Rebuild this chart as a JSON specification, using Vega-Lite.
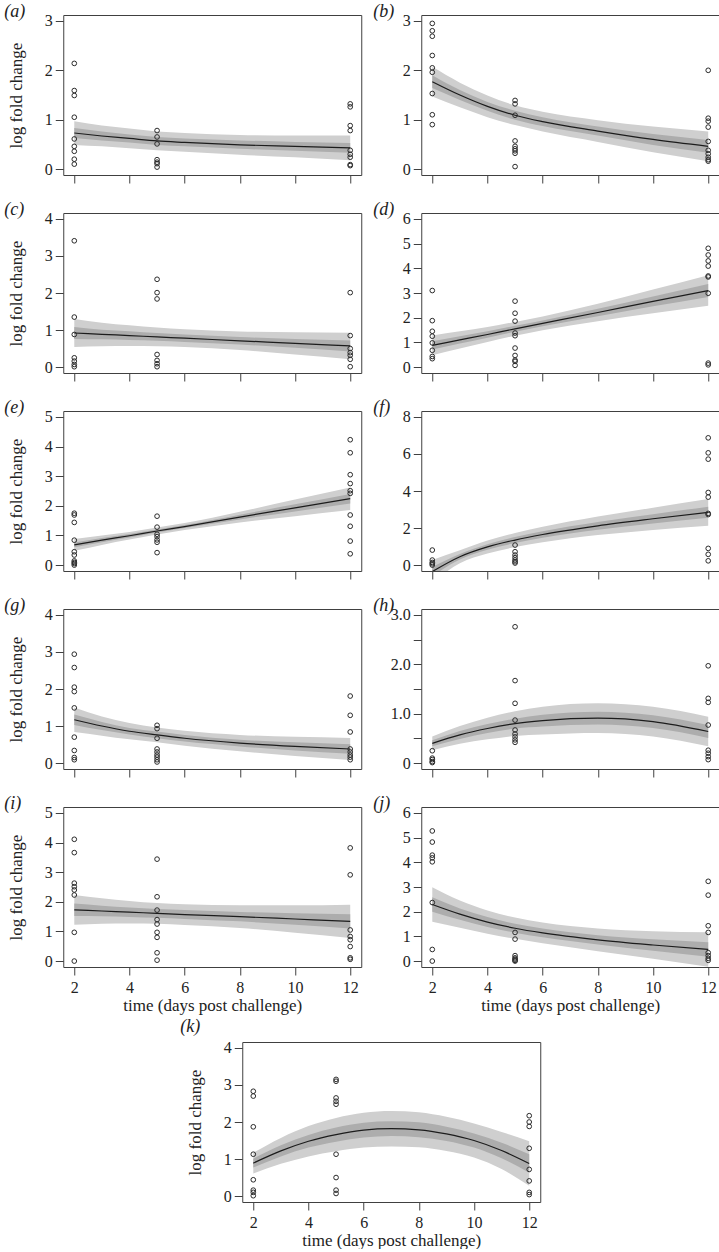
{
"$schema":"https://vega.github.io/schema/vega-lite/v6.json",
"background":"white",
"padding":{"left":3,"top":2,"right":0,"bottom":0},
"datasets":{
"crv":[
{"p":"a","x":2,"fit":0.73,"lo1":0.49,"hi1":0.97,"lo2":0.63,"hi2":0.83},
{"p":"a","x":3,"fit":0.67,"lo1":0.46,"hi1":0.88,"lo2":0.58,"hi2":0.76},
{"p":"a","x":4,"fit":0.62,"lo1":0.42,"hi1":0.82,"lo2":0.54,"hi2":0.70},
{"p":"a","x":5,"fit":0.57,"lo1":0.38,"hi1":0.76,"lo2":0.49,"hi2":0.65},
{"p":"a","x":6,"fit":0.54,"lo1":0.35,"hi1":0.73,"lo2":0.46,"hi2":0.62},
{"p":"a","x":8,"fit":0.49,"lo1":0.29,"hi1":0.69,"lo2":0.41,"hi2":0.58},
{"p":"a","x":10,"fit":0.46,"lo1":0.24,"hi1":0.68,"lo2":0.37,"hi2":0.55},
{"p":"a","x":12,"fit":0.43,"lo1":0.18,"hi1":0.68,"lo2":0.33,"hi2":0.53},
{"p":"b","x":2,"fit":1.77,"lo1":1.47,"hi1":2.07,"lo2":1.64,"hi2":1.90},
{"p":"b","x":3,"fit":1.50,"lo1":1.25,"hi1":1.75,"lo2":1.40,"hi2":1.60},
{"p":"b","x":4,"fit":1.27,"lo1":1.05,"hi1":1.49,"lo2":1.18,"hi2":1.36},
{"p":"b","x":5,"fit":1.09,"lo1":0.89,"hi1":1.29,"lo2":1.00,"hi2":1.18},
{"p":"b","x":6,"fit":0.96,"lo1":0.76,"hi1":1.16,"lo2":0.87,"hi2":1.05},
{"p":"b","x":8,"fit":0.77,"lo1":0.55,"hi1":0.99,"lo2":0.68,"hi2":0.86},
{"p":"b","x":10,"fit":0.60,"lo1":0.34,"hi1":0.86,"lo2":0.49,"hi2":0.71},
{"p":"b","x":12,"fit":0.46,"lo1":0.16,"hi1":0.76,"lo2":0.33,"hi2":0.59},
{"p":"c","x":2,"fit":0.92,"lo1":0.54,"hi1":1.30,"lo2":0.76,"hi2":1.08},
{"p":"c","x":3,"fit":0.885,"lo1":0.56,"hi1":1.20,"lo2":0.75,"hi2":1.01},
{"p":"c","x":4,"fit":0.85,"lo1":0.57,"hi1":1.13,"lo2":0.73,"hi2":0.97},
{"p":"c","x":5,"fit":0.815,"lo1":0.56,"hi1":1.07,"lo2":0.71,"hi2":0.92},
{"p":"c","x":6,"fit":0.78,"lo1":0.54,"hi1":1.02,"lo2":0.68,"hi2":0.88},
{"p":"c","x":8,"fit":0.71,"lo1":0.46,"hi1":0.96,"lo2":0.61,"hi2":0.81},
{"p":"c","x":10,"fit":0.64,"lo1":0.34,"hi1":0.94,"lo2":0.52,"hi2":0.76},
{"p":"c","x":12,"fit":0.57,"lo1":0.21,"hi1":0.93,"lo2":0.42,"hi2":0.72},
{"p":"d","x":2,"fit":0.88,"lo1":0.48,"hi1":1.28,"lo2":0.71,"hi2":1.05},
{"p":"d","x":3,"fit":1.10,"lo1":0.75,"hi1":1.45,"lo2":0.95,"hi2":1.25},
{"p":"d","x":4,"fit":1.32,"lo1":1.02,"hi1":1.62,"lo2":1.19,"hi2":1.45},
{"p":"d","x":5,"fit":1.55,"lo1":1.27,"hi1":1.83,"lo2":1.43,"hi2":1.67},
{"p":"d","x":6,"fit":1.77,"lo1":1.49,"hi1":2.05,"lo2":1.65,"hi2":1.89},
{"p":"d","x":8,"fit":2.21,"lo1":1.86,"hi1":2.56,"lo2":2.06,"hi2":2.36},
{"p":"d","x":10,"fit":2.66,"lo1":2.18,"hi1":3.14,"lo2":2.46,"hi2":2.86},
{"p":"d","x":12,"fit":3.10,"lo1":2.48,"hi1":3.72,"lo2":2.84,"hi2":3.36},
{"p":"e","x":2,"fit":0.68,"lo1":0.48,"hi1":0.88,"lo2":0.60,"hi2":0.76},
{"p":"e","x":3,"fit":0.84,"lo1":0.68,"hi1":1.00,"lo2":0.77,"hi2":0.91},
{"p":"e","x":4,"fit":0.99,"lo1":0.86,"hi1":1.12,"lo2":0.93,"hi2":1.05},
{"p":"e","x":5,"fit":1.15,"lo1":1.03,"hi1":1.27,"lo2":1.10,"hi2":1.20},
{"p":"e","x":6,"fit":1.30,"lo1":1.18,"hi1":1.42,"lo2":1.25,"hi2":1.35},
{"p":"e","x":8,"fit":1.62,"lo1":1.44,"hi1":1.80,"lo2":1.54,"hi2":1.70},
{"p":"e","x":10,"fit":1.93,"lo1":1.65,"hi1":2.21,"lo2":1.81,"hi2":2.05},
{"p":"e","x":12,"fit":2.24,"lo1":1.86,"hi1":2.62,"lo2":2.08,"hi2":2.40},
{"p":"f","x":2,"fit":-0.35,"lo1":-0.95,"hi1":0.28,"lo2":-0.60,"hi2":-0.10},
{"p":"f","x":3,"fit":0.45,"lo1":0.10,"hi1":0.80,"lo2":0.30,"hi2":0.60},
{"p":"f","x":4,"fit":0.98,"lo1":0.63,"hi1":1.33,"lo2":0.83,"hi2":1.13},
{"p":"f","x":5,"fit":1.35,"lo1":0.97,"hi1":1.73,"lo2":1.19,"hi2":1.51},
{"p":"f","x":6,"fit":1.65,"lo1":1.23,"hi1":2.07,"lo2":1.47,"hi2":1.83},
{"p":"f","x":8,"fit":2.12,"lo1":1.62,"hi1":2.62,"lo2":1.91,"hi2":2.33},
{"p":"f","x":10,"fit":2.50,"lo1":1.90,"hi1":3.10,"lo2":2.25,"hi2":2.75},
{"p":"f","x":12,"fit":2.85,"lo1":2.13,"hi1":3.57,"lo2":2.55,"hi2":3.15},
{"p":"g","x":2,"fit":1.17,"lo1":0.84,"hi1":1.50,"lo2":1.03,"hi2":1.31},
{"p":"g","x":3,"fit":1.00,"lo1":0.74,"hi1":1.26,"lo2":0.89,"hi2":1.11},
{"p":"g","x":4,"fit":0.86,"lo1":0.64,"hi1":1.08,"lo2":0.77,"hi2":0.95},
{"p":"g","x":5,"fit":0.76,"lo1":0.56,"hi1":0.96,"lo2":0.67,"hi2":0.85},
{"p":"g","x":6,"fit":0.67,"lo1":0.47,"hi1":0.87,"lo2":0.58,"hi2":0.76},
{"p":"g","x":8,"fit":0.54,"lo1":0.32,"hi1":0.76,"lo2":0.45,"hi2":0.63},
{"p":"g","x":10,"fit":0.45,"lo1":0.19,"hi1":0.71,"lo2":0.34,"hi2":0.56},
{"p":"g","x":12,"fit":0.38,"lo1":0.08,"hi1":0.68,"lo2":0.25,"hi2":0.51},
{"p":"h","x":2,"fit":0.40,"lo1":0.26,"hi1":0.54,"lo2":0.34,"hi2":0.46},
{"p":"h","x":3,"fit":0.57,"lo1":0.39,"hi1":0.75,"lo2":0.49,"hi2":0.65},
{"p":"h","x":4,"fit":0.70,"lo1":0.48,"hi1":0.92,"lo2":0.61,"hi2":0.79},
{"p":"h","x":5,"fit":0.80,"lo1":0.55,"hi1":1.05,"lo2":0.70,"hi2":0.90},
{"p":"h","x":6,"fit":0.86,"lo1":0.58,"hi1":1.14,"lo2":0.74,"hi2":0.98},
{"p":"h","x":8,"fit":0.91,"lo1":0.61,"hi1":1.21,"lo2":0.78,"hi2":1.04},
{"p":"h","x":10,"fit":0.84,"lo1":0.54,"hi1":1.14,"lo2":0.71,"hi2":0.97},
{"p":"h","x":12,"fit":0.64,"lo1":0.34,"hi1":0.94,"lo2":0.51,"hi2":0.77},
{"p":"i","x":2,"fit":1.73,"lo1":1.23,"hi1":2.23,"lo2":1.52,"hi2":1.94},
{"p":"i","x":3,"fit":1.69,"lo1":1.26,"hi1":2.12,"lo2":1.51,"hi2":1.87},
{"p":"i","x":4,"fit":1.65,"lo1":1.27,"hi1":2.03,"lo2":1.49,"hi2":1.81},
{"p":"i","x":5,"fit":1.61,"lo1":1.26,"hi1":1.96,"lo2":1.46,"hi2":1.76},
{"p":"i","x":6,"fit":1.57,"lo1":1.22,"hi1":1.92,"lo2":1.42,"hi2":1.72},
{"p":"i","x":8,"fit":1.50,"lo1":1.12,"hi1":1.88,"lo2":1.34,"hi2":1.66},
{"p":"i","x":10,"fit":1.42,"lo1":0.96,"hi1":1.88,"lo2":1.23,"hi2":1.61},
{"p":"i","x":12,"fit":1.34,"lo1":0.78,"hi1":1.90,"lo2":1.10,"hi2":1.58},
{"p":"j","x":2,"fit":2.29,"lo1":1.59,"hi1":2.99,"lo2":2.00,"hi2":2.58},
{"p":"j","x":3,"fit":1.90,"lo1":1.35,"hi1":2.45,"lo2":1.67,"hi2":2.13},
{"p":"j","x":4,"fit":1.58,"lo1":1.11,"hi1":2.05,"lo2":1.38,"hi2":1.78},
{"p":"j","x":5,"fit":1.33,"lo1":0.90,"hi1":1.76,"lo2":1.15,"hi2":1.51},
{"p":"j","x":6,"fit":1.14,"lo1":0.72,"hi1":1.56,"lo2":0.96,"hi2":1.32},
{"p":"j","x":8,"fit":0.86,"lo1":0.40,"hi1":1.32,"lo2":0.67,"hi2":1.05},
{"p":"j","x":10,"fit":0.65,"lo1":0.09,"hi1":1.21,"lo2":0.42,"hi2":0.88},
{"p":"j","x":12,"fit":0.47,"lo1":-0.23,"hi1":1.17,"lo2":0.18,"hi2":0.76},
{"p":"k","x":2,"fit":0.89,"lo1":0.61,"hi1":1.17,"lo2":0.77,"hi2":1.01},
{"p":"k","x":3,"fit":1.22,"lo1":0.87,"hi1":1.57,"lo2":1.07,"hi2":1.37},
{"p":"k","x":4,"fit":1.48,"lo1":1.07,"hi1":1.89,"lo2":1.31,"hi2":1.65},
{"p":"k","x":5,"fit":1.66,"lo1":1.21,"hi1":2.11,"lo2":1.47,"hi2":1.85},
{"p":"k","x":6,"fit":1.78,"lo1":1.31,"hi1":2.25,"lo2":1.58,"hi2":1.98},
{"p":"k","x":7,"fit":1.82,"lo1":1.34,"hi1":2.30,"lo2":1.62,"hi2":2.02},
{"p":"k","x":8,"fit":1.79,"lo1":1.32,"hi1":2.26,"lo2":1.59,"hi2":1.99},
{"p":"k","x":9,"fit":1.68,"lo1":1.22,"hi1":2.14,"lo2":1.49,"hi2":1.87},
{"p":"k","x":10,"fit":1.50,"lo1":1.04,"hi1":1.96,"lo2":1.31,"hi2":1.69},
{"p":"k","x":11,"fit":1.23,"lo1":0.73,"hi1":1.73,"lo2":1.02,"hi2":1.44},
{"p":"k","x":12,"fit":0.88,"lo1":0.28,"hi1":1.48,"lo2":0.63,"hi2":1.13}
],
"pts":[
{"p":"a","x":2,"y":2.14},{"p":"a","x":2,"y":1.59},{"p":"a","x":2,"y":1.49},{"p":"a","x":2,"y":1.05},{"p":"a","x":2,"y":0.61},{"p":"a","x":2,"y":0.46},{"p":"a","x":2,"y":0.36},{"p":"a","x":2,"y":0.20},{"p":"a","x":2,"y":0.10},
{"p":"a","x":5,"y":0.78},{"p":"a","x":5,"y":0.65},{"p":"a","x":5,"y":0.51},{"p":"a","x":5,"y":0.19},{"p":"a","x":5,"y":0.14},{"p":"a","x":5,"y":0.11},{"p":"a","x":5,"y":0.04},
{"p":"a","x":12,"y":1.32},{"p":"a","x":12,"y":1.26},{"p":"a","x":12,"y":0.88},{"p":"a","x":12,"y":0.78},{"p":"a","x":12,"y":0.38},{"p":"a","x":12,"y":0.30},{"p":"a","x":12,"y":0.24},{"p":"a","x":12,"y":0.09},{"p":"a","x":12,"y":0.07},
{"p":"b","x":2,"y":2.95},{"p":"b","x":2,"y":2.80},{"p":"b","x":2,"y":2.69},{"p":"b","x":2,"y":2.30},{"p":"b","x":2,"y":2.05},{"p":"b","x":2,"y":1.96},{"p":"b","x":2,"y":1.53},{"p":"b","x":2,"y":1.10},{"p":"b","x":2,"y":0.90},
{"p":"b","x":5,"y":1.39},{"p":"b","x":5,"y":1.32},{"p":"b","x":5,"y":1.09},{"p":"b","x":5,"y":0.57},{"p":"b","x":5,"y":0.46},{"p":"b","x":5,"y":0.41},{"p":"b","x":5,"y":0.37},{"p":"b","x":5,"y":0.32},{"p":"b","x":5,"y":0.05},
{"p":"b","x":12,"y":2.0},{"p":"b","x":12,"y":1.03},{"p":"b","x":12,"y":0.97},{"p":"b","x":12,"y":0.85},{"p":"b","x":12,"y":0.56},{"p":"b","x":12,"y":0.38},{"p":"b","x":12,"y":0.31},{"p":"b","x":12,"y":0.24},{"p":"b","x":12,"y":0.19},{"p":"b","x":12,"y":0.16},
{"p":"c","x":2,"y":3.41},{"p":"c","x":2,"y":1.35},{"p":"c","x":2,"y":0.88},{"p":"c","x":2,"y":0.25},{"p":"c","x":2,"y":0.16},{"p":"c","x":2,"y":0.07},{"p":"c","x":2,"y":0.01},
{"p":"c","x":5,"y":2.37},{"p":"c","x":5,"y":2.01},{"p":"c","x":5,"y":1.84},{"p":"c","x":5,"y":0.34},{"p":"c","x":5,"y":0.18},{"p":"c","x":5,"y":0.09},{"p":"c","x":5,"y":0.01},
{"p":"c","x":12,"y":2.01},{"p":"c","x":12,"y":0.85},{"p":"c","x":12,"y":0.50},{"p":"c","x":12,"y":0.39},{"p":"c","x":12,"y":0.32},{"p":"c","x":12,"y":0.21},{"p":"c","x":12,"y":0.01},
{"p":"d","x":2,"y":3.10},{"p":"d","x":2,"y":1.88},{"p":"d","x":2,"y":1.45},{"p":"d","x":2,"y":1.25},{"p":"d","x":2,"y":0.98},{"p":"d","x":2,"y":0.68},{"p":"d","x":2,"y":0.43},{"p":"d","x":2,"y":0.34},
{"p":"d","x":5,"y":2.67},{"p":"d","x":5,"y":2.18},{"p":"d","x":5,"y":1.86},{"p":"d","x":5,"y":1.38},{"p":"d","x":5,"y":1.27},{"p":"d","x":5,"y":0.77},{"p":"d","x":5,"y":0.47},{"p":"d","x":5,"y":0.28},{"p":"d","x":5,"y":0.23},{"p":"d","x":5,"y":0.07},
{"p":"d","x":12,"y":4.81},{"p":"d","x":12,"y":4.54},{"p":"d","x":12,"y":4.30},{"p":"d","x":12,"y":4.09},{"p":"d","x":12,"y":3.69},{"p":"d","x":12,"y":3.65},{"p":"d","x":12,"y":2.99},{"p":"d","x":12,"y":0.16},{"p":"d","x":12,"y":0.09},
{"p":"e","x":2,"y":1.75},{"p":"e","x":2,"y":1.69},{"p":"e","x":2,"y":1.44},{"p":"e","x":2,"y":0.84},{"p":"e","x":2,"y":0.45},{"p":"e","x":2,"y":0.34},{"p":"e","x":2,"y":0.14},{"p":"e","x":2,"y":0.09},{"p":"e","x":2,"y":0.05},{"p":"e","x":2,"y":0.0},
{"p":"e","x":5,"y":1.65},{"p":"e","x":5,"y":1.28},{"p":"e","x":5,"y":1.04},{"p":"e","x":5,"y":0.96},{"p":"e","x":5,"y":0.85},{"p":"e","x":5,"y":0.77},{"p":"e","x":5,"y":0.42},
{"p":"e","x":12,"y":4.23},{"p":"e","x":12,"y":3.79},{"p":"e","x":12,"y":3.05},{"p":"e","x":12,"y":2.75},{"p":"e","x":12,"y":2.51},{"p":"e","x":12,"y":2.42},{"p":"e","x":12,"y":1.69},{"p":"e","x":12,"y":1.31},{"p":"e","x":12,"y":0.81},{"p":"e","x":12,"y":0.38},
{"p":"f","x":2,"y":0.81},{"p":"f","x":2,"y":0.27},{"p":"f","x":2,"y":0.14},{"p":"f","x":2,"y":0.07},{"p":"f","x":2,"y":0.0},
{"p":"f","x":5,"y":1.08},{"p":"f","x":5,"y":0.72},{"p":"f","x":5,"y":0.54},{"p":"f","x":5,"y":0.40},{"p":"f","x":5,"y":0.27},{"p":"f","x":5,"y":0.18},{"p":"f","x":5,"y":0.11},
{"p":"f","x":12,"y":6.87},{"p":"f","x":12,"y":6.06},{"p":"f","x":12,"y":5.72},{"p":"f","x":12,"y":3.92},{"p":"f","x":12,"y":3.67},{"p":"f","x":12,"y":2.79},{"p":"f","x":12,"y":2.73},{"p":"f","x":12,"y":0.90},{"p":"f","x":12,"y":0.58},{"p":"f","x":12,"y":0.23},
{"p":"g","x":2,"y":2.94},{"p":"g","x":2,"y":2.58},{"p":"g","x":2,"y":2.05},{"p":"g","x":2,"y":1.93},{"p":"g","x":2,"y":1.49},{"p":"g","x":2,"y":0.70},{"p":"g","x":2,"y":0.34},{"p":"g","x":2,"y":0.15},{"p":"g","x":2,"y":0.09},
{"p":"g","x":5,"y":1.02},{"p":"g","x":5,"y":0.93},{"p":"g","x":5,"y":0.67},{"p":"g","x":5,"y":0.38},{"p":"g","x":5,"y":0.30},{"p":"g","x":5,"y":0.22},{"p":"g","x":5,"y":0.16},{"p":"g","x":5,"y":0.09},{"p":"g","x":5,"y":0.03},
{"p":"g","x":12,"y":1.81},{"p":"g","x":12,"y":1.29},{"p":"g","x":12,"y":0.84},{"p":"g","x":12,"y":0.38},{"p":"g","x":12,"y":0.30},{"p":"g","x":12,"y":0.22},{"p":"g","x":12,"y":0.16},{"p":"g","x":12,"y":0.09},
{"p":"h","x":2,"y":0.25},{"p":"h","x":2,"y":0.10},{"p":"h","x":2,"y":0.07},{"p":"h","x":2,"y":0.03},{"p":"h","x":2,"y":0.01},
{"p":"h","x":5,"y":2.76},{"p":"h","x":5,"y":1.67},{"p":"h","x":5,"y":1.21},{"p":"h","x":5,"y":0.87},{"p":"h","x":5,"y":0.67},{"p":"h","x":5,"y":0.59},{"p":"h","x":5,"y":0.53},{"p":"h","x":5,"y":0.47},{"p":"h","x":5,"y":0.42},
{"p":"h","x":12,"y":1.97},{"p":"h","x":12,"y":1.31},{"p":"h","x":12,"y":1.23},{"p":"h","x":12,"y":0.77},{"p":"h","x":12,"y":0.26},{"p":"h","x":12,"y":0.20},{"p":"h","x":12,"y":0.13},{"p":"h","x":12,"y":0.07},
{"p":"i","x":2,"y":4.11},{"p":"i","x":2,"y":3.66},{"p":"i","x":2,"y":2.63},{"p":"i","x":2,"y":2.51},{"p":"i","x":2,"y":2.40},{"p":"i","x":2,"y":2.23},{"p":"i","x":2,"y":0.97},{"p":"i","x":2,"y":0.0},
{"p":"i","x":5,"y":3.44},{"p":"i","x":5,"y":2.17},{"p":"i","x":5,"y":1.72},{"p":"i","x":5,"y":1.40},{"p":"i","x":5,"y":1.25},{"p":"i","x":5,"y":0.97},{"p":"i","x":5,"y":0.80},{"p":"i","x":5,"y":0.28},{"p":"i","x":5,"y":0.03},
{"p":"i","x":12,"y":3.82},{"p":"i","x":12,"y":2.91},{"p":"i","x":12,"y":1.05},{"p":"i","x":12,"y":0.83},{"p":"i","x":12,"y":0.72},{"p":"i","x":12,"y":0.49},{"p":"i","x":12,"y":0.11},{"p":"i","x":12,"y":0.06},
{"p":"j","x":2,"y":5.27},{"p":"j","x":2,"y":4.82},{"p":"j","x":2,"y":4.29},{"p":"j","x":2,"y":4.18},{"p":"j","x":2,"y":4.02},{"p":"j","x":2,"y":2.37},{"p":"j","x":2,"y":0.47},{"p":"j","x":2,"y":0.0},
{"p":"j","x":5,"y":1.16},{"p":"j","x":5,"y":0.89},{"p":"j","x":5,"y":0.22},{"p":"j","x":5,"y":0.13},{"p":"j","x":5,"y":0.08},{"p":"j","x":5,"y":0.03},{"p":"j","x":5,"y":0.0},
{"p":"j","x":12,"y":3.23},{"p":"j","x":12,"y":2.67},{"p":"j","x":12,"y":1.43},{"p":"j","x":12,"y":1.16},{"p":"j","x":12,"y":0.34},{"p":"j","x":12,"y":0.22},{"p":"j","x":12,"y":0.11},{"p":"j","x":12,"y":0.03},
{"p":"k","x":2,"y":2.83},{"p":"k","x":2,"y":2.70},{"p":"k","x":2,"y":1.87},{"p":"k","x":2,"y":1.13},{"p":"k","x":2,"y":0.44},{"p":"k","x":2,"y":0.16},{"p":"k","x":2,"y":0.10},{"p":"k","x":2,"y":0.01},
{"p":"k","x":5,"y":3.15},{"p":"k","x":5,"y":3.10},{"p":"k","x":5,"y":2.65},{"p":"k","x":5,"y":2.56},{"p":"k","x":5,"y":2.48},{"p":"k","x":5,"y":1.13},{"p":"k","x":5,"y":0.50},{"p":"k","x":5,"y":0.16},{"p":"k","x":5,"y":0.07},
{"p":"k","x":12,"y":2.17},{"p":"k","x":12,"y":2.0},{"p":"k","x":12,"y":1.88},{"p":"k","x":12,"y":1.29},{"p":"k","x":12,"y":0.72},{"p":"k","x":12,"y":0.41},{"p":"k","x":12,"y":0.10},{"p":"k","x":12,"y":0.04}
]
},
"spacing":3,
"center":true,
"vconcat":[
{"columns":2,"bounds":"flush","spacing":{"row":38,"column":60},
"concat":[
{"width":298,"height":160,"title":{"text":"(a)","dx":-59,"dy":12},
"encoding":{"x":{"field":"x","type":"quantitative","scale":{"domain":[1.6,12.4],"nice":false,"zero":false},"axis":{"values":[2,4,6,8,10,12],"tickCount":100,"format":"d","labels":false,"title":null}}},
"layer":[
{"data":{"name":"crv"},"transform":[{"filter":"datum.p==='a'"}],"mark":{"type":"area","color":"#cfcfcf","opacity":1,"interpolate":"monotone","clip":true},"encoding":{"y":{"field":"lo1","type":"quantitative","scale":{"domain":[-0.12,3.12],"nice":false,"zero":false},"axis":{"values":[0,0.5,1,1.5,2,2.5,3],"tickCount":100,"format":"d","labelExpr":"datum.value%1===0?datum.label:''","title":"log fold change"}},"y2":{"field":"hi1"}}},
{"data":{"name":"crv"},"transform":[{"filter":"datum.p==='a'"}],"mark":{"type":"area","color":"#adadad","opacity":1,"interpolate":"monotone","clip":true},"encoding":{"y":{"field":"lo2","type":"quantitative"},"y2":{"field":"hi2"}}},
{"data":{"name":"crv"},"transform":[{"filter":"datum.p==='a'"}],"mark":{"type":"line","color":"#1c1c1c","strokeWidth":1.2,"interpolate":"monotone","clip":true},"encoding":{"y":{"field":"fit","type":"quantitative"}}},
{"data":{"name":"pts"},"transform":[{"filter":"datum.p==='a'"}],"mark":{"type":"point","shape":"circle","filled":false,"size":22,"color":"#2b2b2b","strokeWidth":1,"opacity":1},"encoding":{"y":{"field":"y","type":"quantitative"}}}
]},
{"width":298,"height":160,"title":{"text":"(b)","dx":-48,"dy":12},
"encoding":{"x":{"field":"x","type":"quantitative","scale":{"domain":[1.6,12.4],"nice":false,"zero":false},"axis":{"values":[2,4,6,8,10,12],"tickCount":100,"format":"d","labels":false,"title":null}}},
"layer":[
{"data":{"name":"crv"},"transform":[{"filter":"datum.p==='b'"}],"mark":{"type":"area","color":"#cfcfcf","opacity":1,"interpolate":"monotone","clip":true},"encoding":{"y":{"field":"lo1","type":"quantitative","scale":{"domain":[-0.12,3.12],"nice":false,"zero":false},"axis":{"values":[0,0.5,1,1.5,2,2.5,3],"tickCount":100,"format":"d","labelExpr":"datum.value%1===0?datum.label:''","title":null}},"y2":{"field":"hi1"}}},
{"data":{"name":"crv"},"transform":[{"filter":"datum.p==='b'"}],"mark":{"type":"area","color":"#adadad","opacity":1,"interpolate":"monotone","clip":true},"encoding":{"y":{"field":"lo2","type":"quantitative"},"y2":{"field":"hi2"}}},
{"data":{"name":"crv"},"transform":[{"filter":"datum.p==='b'"}],"mark":{"type":"line","color":"#1c1c1c","strokeWidth":1.2,"interpolate":"monotone","clip":true},"encoding":{"y":{"field":"fit","type":"quantitative"}}},
{"data":{"name":"pts"},"transform":[{"filter":"datum.p==='b'"}],"mark":{"type":"point","shape":"circle","filled":false,"size":22,"color":"#2b2b2b","strokeWidth":1,"opacity":1},"encoding":{"y":{"field":"y","type":"quantitative"}}}
]},
{"width":298,"height":160,"title":{"text":"(c)","dx":-59,"dy":12},
"encoding":{"x":{"field":"x","type":"quantitative","scale":{"domain":[1.6,12.4],"nice":false,"zero":false},"axis":{"values":[2,4,6,8,10,12],"tickCount":100,"format":"d","labels":false,"title":null}}},
"layer":[
{"data":{"name":"crv"},"transform":[{"filter":"datum.p==='c'"}],"mark":{"type":"area","color":"#cfcfcf","opacity":1,"interpolate":"monotone","clip":true},"encoding":{"y":{"field":"lo1","type":"quantitative","scale":{"domain":[-0.16,4.16],"nice":false,"zero":false},"axis":{"values":[0,1,2,3,4],"tickCount":100,"format":"d","title":"log fold change"}},"y2":{"field":"hi1"}}},
{"data":{"name":"crv"},"transform":[{"filter":"datum.p==='c'"}],"mark":{"type":"area","color":"#adadad","opacity":1,"interpolate":"monotone","clip":true},"encoding":{"y":{"field":"lo2","type":"quantitative"},"y2":{"field":"hi2"}}},
{"data":{"name":"crv"},"transform":[{"filter":"datum.p==='c'"}],"mark":{"type":"line","color":"#1c1c1c","strokeWidth":1.2,"interpolate":"monotone","clip":true},"encoding":{"y":{"field":"fit","type":"quantitative"}}},
{"data":{"name":"pts"},"transform":[{"filter":"datum.p==='c'"}],"mark":{"type":"point","shape":"circle","filled":false,"size":22,"color":"#2b2b2b","strokeWidth":1,"opacity":1},"encoding":{"y":{"field":"y","type":"quantitative"}}}
]},
{"width":298,"height":160,"title":{"text":"(d)","dx":-48,"dy":12},
"encoding":{"x":{"field":"x","type":"quantitative","scale":{"domain":[1.6,12.4],"nice":false,"zero":false},"axis":{"values":[2,4,6,8,10,12],"tickCount":100,"format":"d","labels":false,"title":null}}},
"layer":[
{"data":{"name":"crv"},"transform":[{"filter":"datum.p==='d'"}],"mark":{"type":"area","color":"#cfcfcf","opacity":1,"interpolate":"monotone","clip":true},"encoding":{"y":{"field":"lo1","type":"quantitative","scale":{"domain":[-0.24,6.24],"nice":false,"zero":false},"axis":{"values":[0,1,2,3,4,5,6],"tickCount":100,"format":"d","title":null}},"y2":{"field":"hi1"}}},
{"data":{"name":"crv"},"transform":[{"filter":"datum.p==='d'"}],"mark":{"type":"area","color":"#adadad","opacity":1,"interpolate":"monotone","clip":true},"encoding":{"y":{"field":"lo2","type":"quantitative"},"y2":{"field":"hi2"}}},
{"data":{"name":"crv"},"transform":[{"filter":"datum.p==='d'"}],"mark":{"type":"line","color":"#1c1c1c","strokeWidth":1.2,"interpolate":"monotone","clip":true},"encoding":{"y":{"field":"fit","type":"quantitative"}}},
{"data":{"name":"pts"},"transform":[{"filter":"datum.p==='d'"}],"mark":{"type":"point","shape":"circle","filled":false,"size":22,"color":"#2b2b2b","strokeWidth":1,"opacity":1},"encoding":{"y":{"field":"y","type":"quantitative"}}}
]},
{"width":298,"height":160,"title":{"text":"(e)","dx":-59,"dy":12},
"encoding":{"x":{"field":"x","type":"quantitative","scale":{"domain":[1.6,12.4],"nice":false,"zero":false},"axis":{"values":[2,4,6,8,10,12],"tickCount":100,"format":"d","labels":false,"title":null}}},
"layer":[
{"data":{"name":"crv"},"transform":[{"filter":"datum.p==='e'"}],"mark":{"type":"area","color":"#cfcfcf","opacity":1,"interpolate":"monotone","clip":true},"encoding":{"y":{"field":"lo1","type":"quantitative","scale":{"domain":[-0.2,5.2],"nice":false,"zero":false},"axis":{"values":[0,1,2,3,4,5],"tickCount":100,"format":"d","title":"log fold change"}},"y2":{"field":"hi1"}}},
{"data":{"name":"crv"},"transform":[{"filter":"datum.p==='e'"}],"mark":{"type":"area","color":"#adadad","opacity":1,"interpolate":"monotone","clip":true},"encoding":{"y":{"field":"lo2","type":"quantitative"},"y2":{"field":"hi2"}}},
{"data":{"name":"crv"},"transform":[{"filter":"datum.p==='e'"}],"mark":{"type":"line","color":"#1c1c1c","strokeWidth":1.2,"interpolate":"monotone","clip":true},"encoding":{"y":{"field":"fit","type":"quantitative"}}},
{"data":{"name":"pts"},"transform":[{"filter":"datum.p==='e'"}],"mark":{"type":"point","shape":"circle","filled":false,"size":22,"color":"#2b2b2b","strokeWidth":1,"opacity":1},"encoding":{"y":{"field":"y","type":"quantitative"}}}
]},
{"width":298,"height":160,"title":{"text":"(f)","dx":-48,"dy":12},
"encoding":{"x":{"field":"x","type":"quantitative","scale":{"domain":[1.6,12.4],"nice":false,"zero":false},"axis":{"values":[2,4,6,8,10,12],"tickCount":100,"format":"d","labels":false,"title":null}}},
"layer":[
{"data":{"name":"crv"},"transform":[{"filter":"datum.p==='f'"}],"mark":{"type":"area","color":"#cfcfcf","opacity":1,"interpolate":"monotone","clip":true},"encoding":{"y":{"field":"lo1","type":"quantitative","scale":{"domain":[-0.32,8.32],"nice":false,"zero":false},"axis":{"values":[0,2,4,6,8],"tickCount":100,"format":"d","title":null}},"y2":{"field":"hi1"}}},
{"data":{"name":"crv"},"transform":[{"filter":"datum.p==='f'"}],"mark":{"type":"area","color":"#adadad","opacity":1,"interpolate":"monotone","clip":true},"encoding":{"y":{"field":"lo2","type":"quantitative"},"y2":{"field":"hi2"}}},
{"data":{"name":"crv"},"transform":[{"filter":"datum.p==='f'"}],"mark":{"type":"line","color":"#1c1c1c","strokeWidth":1.2,"interpolate":"monotone","clip":true},"encoding":{"y":{"field":"fit","type":"quantitative"}}},
{"data":{"name":"pts"},"transform":[{"filter":"datum.p==='f'"}],"mark":{"type":"point","shape":"circle","filled":false,"size":22,"color":"#2b2b2b","strokeWidth":1,"opacity":1},"encoding":{"y":{"field":"y","type":"quantitative"}}}
]},
{"width":298,"height":160,"title":{"text":"(g)","dx":-59,"dy":12},
"encoding":{"x":{"field":"x","type":"quantitative","scale":{"domain":[1.6,12.4],"nice":false,"zero":false},"axis":{"values":[2,4,6,8,10,12],"tickCount":100,"format":"d","labels":false,"title":null}}},
"layer":[
{"data":{"name":"crv"},"transform":[{"filter":"datum.p==='g'"}],"mark":{"type":"area","color":"#cfcfcf","opacity":1,"interpolate":"monotone","clip":true},"encoding":{"y":{"field":"lo1","type":"quantitative","scale":{"domain":[-0.16,4.16],"nice":false,"zero":false},"axis":{"values":[0,1,2,3,4],"tickCount":100,"format":"d","title":"log fold change"}},"y2":{"field":"hi1"}}},
{"data":{"name":"crv"},"transform":[{"filter":"datum.p==='g'"}],"mark":{"type":"area","color":"#adadad","opacity":1,"interpolate":"monotone","clip":true},"encoding":{"y":{"field":"lo2","type":"quantitative"},"y2":{"field":"hi2"}}},
{"data":{"name":"crv"},"transform":[{"filter":"datum.p==='g'"}],"mark":{"type":"line","color":"#1c1c1c","strokeWidth":1.2,"interpolate":"monotone","clip":true},"encoding":{"y":{"field":"fit","type":"quantitative"}}},
{"data":{"name":"pts"},"transform":[{"filter":"datum.p==='g'"}],"mark":{"type":"point","shape":"circle","filled":false,"size":22,"color":"#2b2b2b","strokeWidth":1,"opacity":1},"encoding":{"y":{"field":"y","type":"quantitative"}}}
]},
{"width":298,"height":160,"title":{"text":"(h)","dx":-48,"dy":12},
"encoding":{"x":{"field":"x","type":"quantitative","scale":{"domain":[1.6,12.4],"nice":false,"zero":false},"axis":{"values":[2,4,6,8,10,12],"tickCount":100,"format":"d","labels":false,"title":null}}},
"layer":[
{"data":{"name":"crv"},"transform":[{"filter":"datum.p==='h'"}],"mark":{"type":"area","color":"#cfcfcf","opacity":1,"interpolate":"monotone","clip":true},"encoding":{"y":{"field":"lo1","type":"quantitative","scale":{"domain":[-0.12,3.12],"nice":false,"zero":false},"axis":{"values":[0,0.5,1,1.5,2,2.5,3],"tickCount":100,"format":".1f","labelExpr":"datum.value===0?'0':(datum.value%1===0?datum.label:'')","title":null}},"y2":{"field":"hi1"}}},
{"data":{"name":"crv"},"transform":[{"filter":"datum.p==='h'"}],"mark":{"type":"area","color":"#adadad","opacity":1,"interpolate":"monotone","clip":true},"encoding":{"y":{"field":"lo2","type":"quantitative"},"y2":{"field":"hi2"}}},
{"data":{"name":"crv"},"transform":[{"filter":"datum.p==='h'"}],"mark":{"type":"line","color":"#1c1c1c","strokeWidth":1.2,"interpolate":"monotone","clip":true},"encoding":{"y":{"field":"fit","type":"quantitative"}}},
{"data":{"name":"pts"},"transform":[{"filter":"datum.p==='h'"}],"mark":{"type":"point","shape":"circle","filled":false,"size":22,"color":"#2b2b2b","strokeWidth":1,"opacity":1},"encoding":{"y":{"field":"y","type":"quantitative"}}}
]},
{"width":298,"height":160,"title":{"text":"(i)","dx":-59,"dy":12},
"encoding":{"x":{"field":"x","type":"quantitative","scale":{"domain":[1.6,12.4],"nice":false,"zero":false},"axis":{"values":[2,4,6,8,10,12],"tickCount":100,"format":"d","title":"time (days post challenge)"}}},
"layer":[
{"data":{"name":"crv"},"transform":[{"filter":"datum.p==='i'"}],"mark":{"type":"area","color":"#cfcfcf","opacity":1,"interpolate":"monotone","clip":true},"encoding":{"y":{"field":"lo1","type":"quantitative","scale":{"domain":[-0.2,5.2],"nice":false,"zero":false},"axis":{"values":[0,1,2,3,4,5],"tickCount":100,"format":"d","title":"log fold change"}},"y2":{"field":"hi1"}}},
{"data":{"name":"crv"},"transform":[{"filter":"datum.p==='i'"}],"mark":{"type":"area","color":"#adadad","opacity":1,"interpolate":"monotone","clip":true},"encoding":{"y":{"field":"lo2","type":"quantitative"},"y2":{"field":"hi2"}}},
{"data":{"name":"crv"},"transform":[{"filter":"datum.p==='i'"}],"mark":{"type":"line","color":"#1c1c1c","strokeWidth":1.2,"interpolate":"monotone","clip":true},"encoding":{"y":{"field":"fit","type":"quantitative"}}},
{"data":{"name":"pts"},"transform":[{"filter":"datum.p==='i'"}],"mark":{"type":"point","shape":"circle","filled":false,"size":22,"color":"#2b2b2b","strokeWidth":1,"opacity":1},"encoding":{"y":{"field":"y","type":"quantitative"}}}
]},
{"width":298,"height":160,"title":{"text":"(j)","dx":-48,"dy":12},
"encoding":{"x":{"field":"x","type":"quantitative","scale":{"domain":[1.6,12.4],"nice":false,"zero":false},"axis":{"values":[2,4,6,8,10,12],"tickCount":100,"format":"d","title":"time (days post challenge)"}}},
"layer":[
{"data":{"name":"crv"},"transform":[{"filter":"datum.p==='j'"}],"mark":{"type":"area","color":"#cfcfcf","opacity":1,"interpolate":"monotone","clip":true},"encoding":{"y":{"field":"lo1","type":"quantitative","scale":{"domain":[-0.24,6.24],"nice":false,"zero":false},"axis":{"values":[0,1,2,3,4,5,6],"tickCount":100,"format":"d","title":null}},"y2":{"field":"hi1"}}},
{"data":{"name":"crv"},"transform":[{"filter":"datum.p==='j'"}],"mark":{"type":"area","color":"#adadad","opacity":1,"interpolate":"monotone","clip":true},"encoding":{"y":{"field":"lo2","type":"quantitative"},"y2":{"field":"hi2"}}},
{"data":{"name":"crv"},"transform":[{"filter":"datum.p==='j'"}],"mark":{"type":"line","color":"#1c1c1c","strokeWidth":1.2,"interpolate":"monotone","clip":true},"encoding":{"y":{"field":"fit","type":"quantitative"}}},
{"data":{"name":"pts"},"transform":[{"filter":"datum.p==='j'"}],"mark":{"type":"point","shape":"circle","filled":false,"size":22,"color":"#2b2b2b","strokeWidth":1,"opacity":1},"encoding":{"y":{"field":"y","type":"quantitative"}}}
]}
]},
{"width":298,"height":160,"title":{"text":"(k)","dx":-62,"dy":0},
"encoding":{"x":{"field":"x","type":"quantitative","scale":{"domain":[1.6,12.4],"nice":false,"zero":false},"axis":{"values":[2,4,6,8,10,12],"tickCount":100,"format":"d","title":"time (days post challenge)"}}},
"layer":[
{"data":{"name":"crv"},"transform":[{"filter":"datum.p==='k'"}],"mark":{"type":"area","color":"#cfcfcf","opacity":1,"interpolate":"monotone","clip":true},"encoding":{"y":{"field":"lo1","type":"quantitative","scale":{"domain":[-0.16,4.16],"nice":false,"zero":false},"axis":{"values":[0,1,2,3,4],"tickCount":100,"format":"d","title":"log fold change"}},"y2":{"field":"hi1"}}},
{"data":{"name":"crv"},"transform":[{"filter":"datum.p==='k'"}],"mark":{"type":"area","color":"#adadad","opacity":1,"interpolate":"monotone","clip":true},"encoding":{"y":{"field":"lo2","type":"quantitative"},"y2":{"field":"hi2"}}},
{"data":{"name":"crv"},"transform":[{"filter":"datum.p==='k'"}],"mark":{"type":"line","color":"#1c1c1c","strokeWidth":1.2,"interpolate":"monotone","clip":true},"encoding":{"y":{"field":"fit","type":"quantitative"}}},
{"data":{"name":"pts"},"transform":[{"filter":"datum.p==='k'"}],"mark":{"type":"point","shape":"circle","filled":false,"size":22,"color":"#2b2b2b","strokeWidth":1,"opacity":1},"encoding":{"y":{"field":"y","type":"quantitative"}}}
]}
],
"config":{
"font":"Liberation Serif",
"view":{"stroke":"#404040","strokeWidth":1},
"axis":{"domain":false,"grid":false,"ticks":true,"tickColor":"#404040","tickSize":8,"tickWidth":1,"labelFont":"Liberation Serif","labelFontSize":16,"labelColor":"#222222","labelPadding":3,"labelOverlap":false,"labelFlush":false,"titleFont":"Liberation Serif","titleFontSize":17,"titleFontWeight":"normal","titleColor":"#222222"},
"axisY":{"titlePadding":19},
"axisX":{"titlePadding":2,"labelPadding":4},
"title":{"anchor":"start","frame":"group","font":"Liberation Serif","fontSize":18,"fontWeight":"normal","fontStyle":"italic","color":"#222222","offset":0}
}
}
